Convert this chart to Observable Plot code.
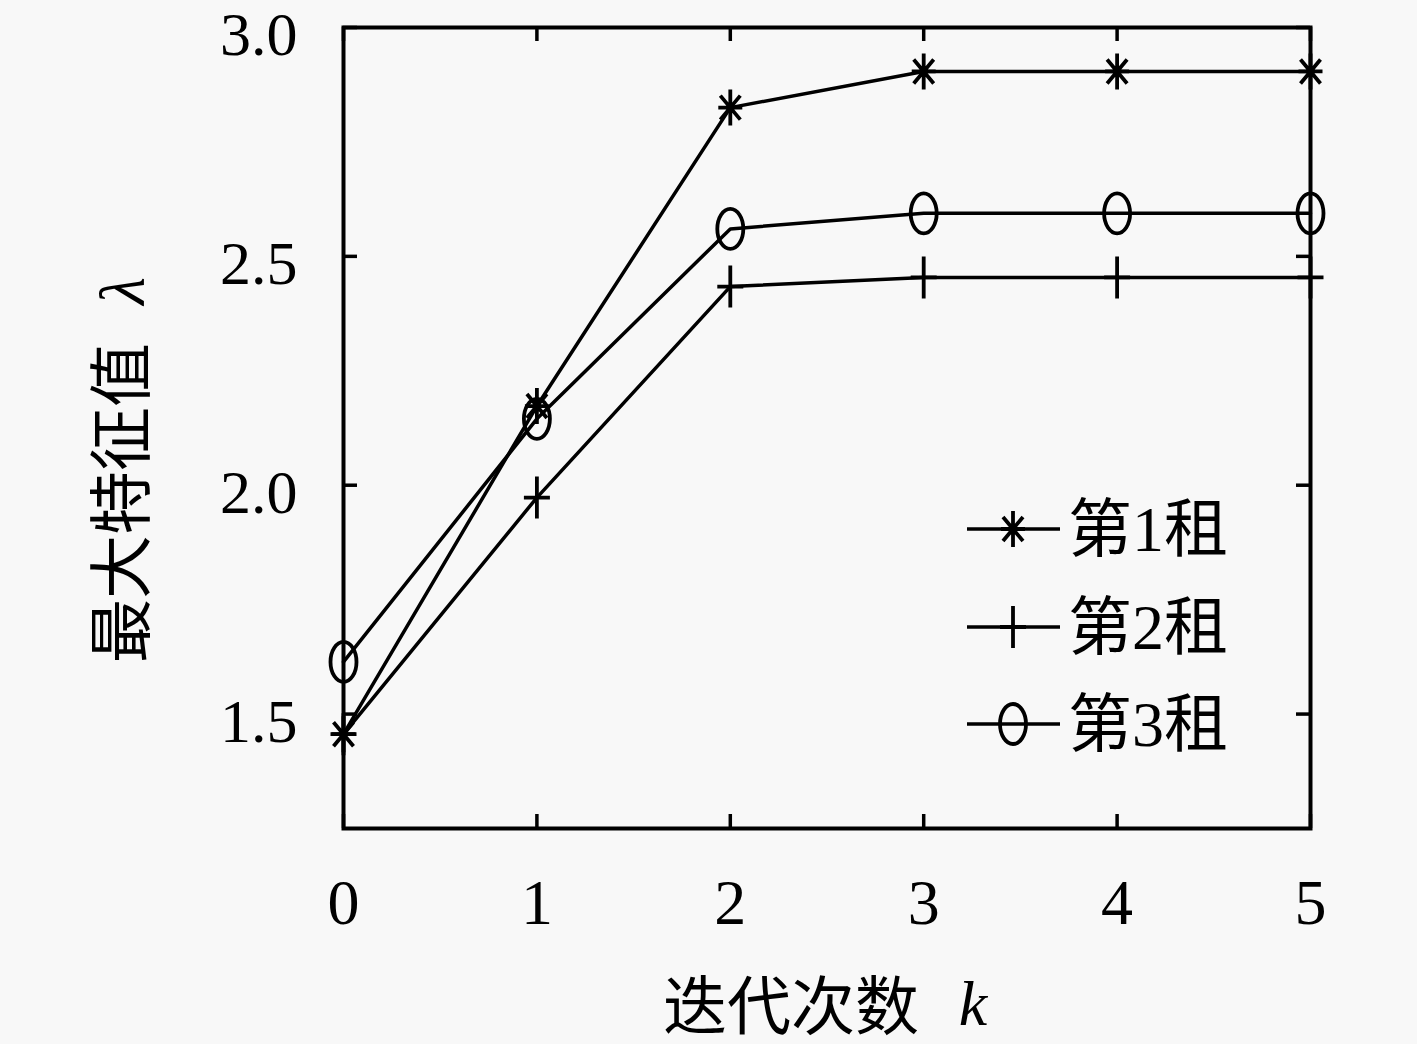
<!DOCTYPE html>
<html><head><meta charset="utf-8">
<script src="https://cdn.jsdelivr.net/npm/d3@7"></script>
<script src="https://cdn.jsdelivr.net/npm/@observablehq/plot@0.6"></script>
<style>
html,body{margin:0;padding:0;background:#f8f8f8;}
#wrap{position:relative;width:1417px;height:1044px;}
#legend{position:absolute;left:0;top:0;pointer-events:none;}
</style></head><body><div id="wrap"></div>
<script>
// ---- data ----
const iterations = [0, 1, 2, 3, 4, 5];
const group1 = [1.456, 2.173, 2.825, 2.904, 2.904, 2.904];
const group2 = [1.456, 1.973, 2.434, 2.454, 2.454, 2.454];
const group3 = [1.614, 2.145, 2.560, 2.594, 2.594, 2.594];
const seriesNames = ["第1租", "第2租", "第3租"];
const xTicks = [0, 1, 2, 3, 4, 5];
const yTicks = [1.5, 2.0, 2.5, 3.0];
const yDomain = [1.25, 3.0];
const xLabel = "迭代次数";
const xLabelVar = "k";
const yLabel = "最大特征值";
const yLabelVar = "λ";

// ---- layout ----
const W = 1417, H = 1044, mL = 343, mR = 107, mT = 27, mB = 216;
const plotH = H - mT - mB, plotW = W - mL - mR, tickLen = 14;
const FONT = "'Liberation Serif','Noto Sans CJK SC',serif";

// ---- marker symbols ----
function ellipse(c, rx, ry) {
  const k = 0.5523;
  c.moveTo(rx, 0);
  c.bezierCurveTo(rx, ry * k, rx * k, ry, 0, ry);
  c.bezierCurveTo(-rx * k, ry, -rx, ry * k, -rx, 0);
  c.bezierCurveTo(-rx, -ry * k, -rx * k, -ry, 0, -ry);
  c.bezierCurveTo(rx * k, -ry, rx, -ry * k, rx, 0);
  c.closePath();
}
const starSymbol = {draw(c) {
  c.moveTo(0, -18); c.lineTo(0, 18);
  c.moveTo(-10, -12); c.lineTo(10, 12);
  c.moveTo(-10, 12); c.lineTo(10, -12);
  c.moveTo(-12, 0); c.lineTo(12, 0);
}};
const plusSymbol = {draw(c) {
  c.moveTo(0, -21); c.lineTo(0, 21);
  c.moveTo(-13, 0); c.lineTo(13, 0);
}};
const circleSymbol = {draw(c) { ellipse(c, 13, 20); }};
const symbols = [starSymbol, plusSymbol, circleSymbol];

const seriesValues = [group1, group2, group3];
const rows = seriesValues.flatMap((vals, i) =>
  vals.map((v, j) => ({k: iterations[j], value: v, group: seriesNames[i]})));

const marks = [
  Plot.tickX(xTicks, {x: d => d, insetTop: plotH - tickLen, stroke: "black", strokeWidth: 3.5}),
  Plot.tickX(xTicks, {x: d => d, insetBottom: plotH - tickLen, stroke: "black", strokeWidth: 3.5}),
  Plot.tickY(yTicks, {y: d => d, insetRight: plotW - tickLen, stroke: "black", strokeWidth: 3.5}),
  Plot.tickY(yTicks, {y: d => d, insetLeft: plotW - tickLen, stroke: "black", strokeWidth: 3.5}),
  Plot.axisX({anchor: "bottom", ticks: xTicks, tickSize: 0, tickPadding: 50, fontSize: 64, tickFormat: d3.format("d")}),
  Plot.axisY({anchor: "left", ticks: yTicks, tickSize: 0, tickPadding: 46, fontSize: 62, tickFormat: d3.format(".1f"), dy: 8}),
  Plot.line(rows, {x: "k", y: "value", z: "group", stroke: "black", strokeWidth: 3.5}),
  ...seriesNames.map((name, i) =>
    Plot.dot(rows.filter(r => r.group === name), {x: "k", y: "value", symbol: symbols[i], stroke: "black", strokeWidth: 3.8, fill: "none"})),
  Plot.frame({stroke: "black", strokeWidth: 4}),
  Plot.text([yLabel], {text: d => d, frameAnchor: "left", rotate: -90, dx: -220, dy: 75, fontSize: 64, textAnchor: "middle", lineAnchor: "middle"}),
  Plot.text([yLabelVar], {text: d => d, frameAnchor: "left", rotate: -90, dx: -220, dy: -137, fontSize: 64, fontStyle: "italic", textAnchor: "middle", lineAnchor: "middle"}),
  Plot.text([xLabel], {text: d => d, frameAnchor: "bottom", dx: -36, dy: 180, fontSize: 64, textAnchor: "middle", lineAnchor: "middle"}),
  Plot.text([xLabelVar], {text: d => d, frameAnchor: "bottom", dx: 146, dy: 176, fontSize: 64, fontStyle: "italic", textAnchor: "middle", lineAnchor: "middle"})
];

const chart = Plot.plot({
  width: W, height: H,
  marginLeft: mL, marginRight: mR, marginTop: mT, marginBottom: mB,
  x: {domain: [0, 5], label: null},
  y: {domain: yDomain, label: null},
  style: {background: "transparent", fontFamily: FONT, fontSize: "64px", color: "black", overflow: "visible"},
  marks
});
const wrap = document.getElementById("wrap");
wrap.appendChild(chart);

// ---- legend (inside the plot area) ----
const legendRowsY = [529, 627, 724];
const lg = d3.select(wrap).append("svg").attr("id", "legend").attr("width", W).attr("height", H);
seriesNames.forEach((name, i) => {
  const y = legendRowsY[i];
  lg.append("line").attr("x1", 967).attr("x2", 1060).attr("y1", y).attr("y2", y)
    .attr("stroke", "black").attr("stroke-width", 3.5);
  const p = d3.path(); symbols[i].draw(p);
  lg.append("path").attr("d", p.toString()).attr("transform", `translate(1013,${y})`)
    .attr("fill", "none").attr("stroke", "black").attr("stroke-width", 3.8);
  lg.append("text").attr("x", 1068).attr("y", y).attr("dy", "0.35em")
    .attr("font-family", FONT).attr("font-size", 64).attr("fill", "black").text(name);
});
</script></body></html>
